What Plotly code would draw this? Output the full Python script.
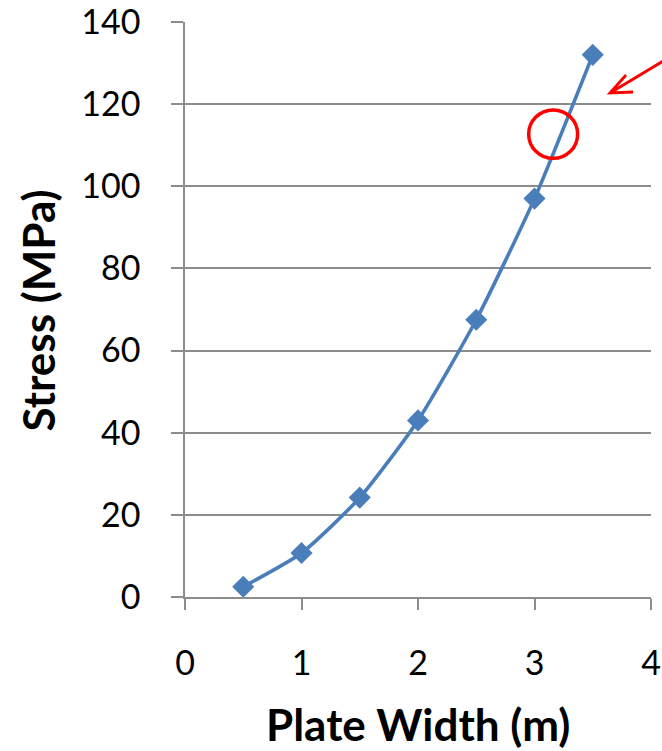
import plotly.graph_objects as go

# Stress measured against plate width
plate_width = [0.5, 1.0, 1.5, 2.0, 2.5, 3.0, 3.5]
stress_mpa = [2.5, 10.7, 24.2, 43.0, 67.5, 97.0, 132.0]

x_ticks = [0, 1, 2, 3, 4]
y_ticks = [0, 20, 40, 60, 80, 100, 120, 140]

BLUE = "#4A7EBB"
GRID = "#8C8C8C"
FONT = "Lato, 'Open Sans', sans-serif"

fig = go.Figure()
fig.add_trace(go.Scatter(
    x=plate_width, y=stress_mpa,
    mode="lines+markers",
    line=dict(color=BLUE, width=3.6, shape="spline", smoothing=0.6),
    marker=dict(symbol="diamond", size=17, color=BLUE),
    showlegend=False,
))

# highlight circle around the region of interest
fig.add_shape(type="circle", xref="x", yref="y",
              x0=3.16 - 0.21, x1=3.16 + 0.21,
              y0=112.7 - 5.9, y1=112.7 + 5.9,
              line=dict(color="#FF0000", width=3.5))

# pointer arrow (open chevron head)
fig.add_shape(type="path", xref="paper", yref="paper",
              path="M 1.03,0.934 L 0.912,0.8765 M 0.9614,0.8783 L 0.912,0.8765 L 0.9464,0.9078",
              line=dict(color="#FF0000", width=2.8))

# axis titles
fig.add_annotation(text="<b>Plate Width (m)</b>", xref="paper", yref="paper",
                   x=0.5, y=0, xanchor="center", yanchor="middle", yshift=-127,
                   showarrow=False, font=dict(size=44, family=FONT, color="black"))
fig.add_annotation(text="<b>Stress (MPa)</b>", xref="paper", yref="paper",
                   x=0, y=0.5, xanchor="center", yanchor="middle", xshift=-148, yshift=-1,
                   textangle=-90, showarrow=False,
                   font=dict(size=44, family=FONT, color="black"))

fig.update_layout(
    width=662, height=751,
    margin=dict(l=185, r=11, t=22, b=154),
    plot_bgcolor="white", paper_bgcolor="white",
    font=dict(family=FONT, size=34, color="black"),
)
fig.update_xaxes(
    range=[0, 4], tickvals=x_ticks, showgrid=False, zeroline=False,
    showline=True, linecolor=GRID, linewidth=1.5,
    ticks="outside", ticklen=11, tickcolor=GRID, tickwidth=1.5,
    ticklabelstandoff=24, automargin=False, ticklabeloverflow="allow",
)
fig.update_yaxes(
    range=[0, 140], tickvals=y_ticks, showgrid=True, gridcolor=GRID, gridwidth=1.5,
    zeroline=False, showline=True, linecolor=GRID, linewidth=1.5,
    ticks="outside", ticklen=12, tickcolor=GRID, tickwidth=1.5,
    ticklabelstandoff=24, automargin=False, ticklabeloverflow="allow",
)

fig.write_html("out.html")
